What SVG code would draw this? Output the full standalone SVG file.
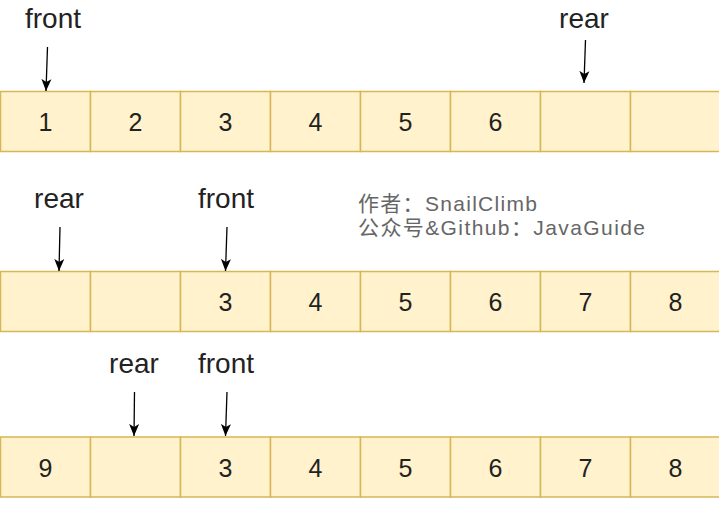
<svg xmlns="http://www.w3.org/2000/svg" width="719" height="505" viewBox="0 0 719 505">
<defs>
<style>
.cell{fill:#fff2cc;stroke:#d6b656;stroke-width:1.5}
.num{font-family:"Liberation Sans",Arial,sans-serif;font-size:25px;fill:#222;text-anchor:middle}
.lbl{font-family:"Liberation Sans",Arial,sans-serif;font-size:28px;fill:#222;text-anchor:middle}
.wm{font-family:"Liberation Sans","Noto Sans CJK SC",sans-serif;font-size:21px;fill:#666}
.arr{stroke:#000;stroke-width:1.3;fill:none}
</style>
<marker id="ah" markerWidth="13" markerHeight="12" viewBox="0 0 13 12" refX="12" refY="6" orient="auto" markerUnits="userSpaceOnUse">
<path d="M0,1 L12,6 L0,11 L3,6 Z" fill="#000"/>
</marker>
</defs>
<rect width="719" height="505" fill="#fff"/>
<g id="row1">
<rect class="cell" x="0.5" y="91.5" width="90" height="60"/>
<rect class="cell" x="90.5" y="91.5" width="90" height="60"/>
<rect class="cell" x="180.5" y="91.5" width="90" height="60"/>
<rect class="cell" x="270.5" y="91.5" width="90" height="60"/>
<rect class="cell" x="360.5" y="91.5" width="90" height="60"/>
<rect class="cell" x="450.5" y="91.5" width="90" height="60"/>
<rect class="cell" x="540.5" y="91.5" width="90" height="60"/>
<rect class="cell" x="630.5" y="91.5" width="90" height="60"/>
<text class="num" x="45.5" y="131">1</text>
<text class="num" x="135.5" y="131">2</text>
<text class="num" x="225.5" y="131">3</text>
<text class="num" x="315.5" y="131">4</text>
<text class="num" x="405.5" y="131">5</text>
<text class="num" x="495.5" y="131">6</text>
</g>
<g id="row2">
<rect class="cell" x="0.5" y="271.5" width="90" height="60"/>
<rect class="cell" x="90.5" y="271.5" width="90" height="60"/>
<rect class="cell" x="180.5" y="271.5" width="90" height="60"/>
<rect class="cell" x="270.5" y="271.5" width="90" height="60"/>
<rect class="cell" x="360.5" y="271.5" width="90" height="60"/>
<rect class="cell" x="450.5" y="271.5" width="90" height="60"/>
<rect class="cell" x="540.5" y="271.5" width="90" height="60"/>
<rect class="cell" x="630.5" y="271.5" width="90" height="60"/>
<text class="num" x="225.5" y="311">3</text>
<text class="num" x="315.5" y="311">4</text>
<text class="num" x="405.5" y="311">5</text>
<text class="num" x="495.5" y="311">6</text>
<text class="num" x="585.5" y="311">7</text>
<text class="num" x="675.5" y="311">8</text>
</g>
<g id="row3">
<rect class="cell" x="0.5" y="437" width="90" height="60"/>
<rect class="cell" x="90.5" y="437" width="90" height="60"/>
<rect class="cell" x="180.5" y="437" width="90" height="60"/>
<rect class="cell" x="270.5" y="437" width="90" height="60"/>
<rect class="cell" x="360.5" y="437" width="90" height="60"/>
<rect class="cell" x="450.5" y="437" width="90" height="60"/>
<rect class="cell" x="540.5" y="437" width="90" height="60"/>
<rect class="cell" x="630.5" y="437" width="90" height="60"/>
<text class="num" x="45.5" y="476.5">9</text>
<text class="num" x="225.5" y="476.5">3</text>
<text class="num" x="315.5" y="476.5">4</text>
<text class="num" x="405.5" y="476.5">5</text>
<text class="num" x="495.5" y="476.5">6</text>
<text class="num" x="585.5" y="476.5">7</text>
<text class="num" x="675.5" y="476.5">8</text>
</g>
<g id="labels">
<text class="lbl" x="53" y="28">front</text>
<text class="lbl" x="584" y="28">rear</text>
<text class="lbl" x="59" y="208">rear</text>
<text class="lbl" x="226" y="208">front</text>
<text class="lbl" x="134" y="373">rear</text>
<text class="lbl" x="226" y="373">front</text>
</g>
<g id="watermark">
<text class="wm" x="358" y="211" textLength="179" lengthAdjust="spacing">作者：SnailClimb</text>
<text class="wm" x="358" y="235" textLength="287" lengthAdjust="spacing">公众号&amp;Github：JavaGuide</text>
</g>
<g id="connectors">
<line class="arr" x1="47.5" y1="47" x2="46" y2="91" marker-end="url(#ah)"/>
<line class="arr" x1="585.5" y1="40" x2="584" y2="83" marker-end="url(#ah)"/>
<line class="arr" x1="60" y1="227" x2="59" y2="271" marker-end="url(#ah)"/>
<line class="arr" x1="227" y1="227" x2="225.5" y2="271" marker-end="url(#ah)"/>
<line class="arr" x1="134.5" y1="392" x2="134" y2="436" marker-end="url(#ah)"/>
<line class="arr" x1="227" y1="392" x2="225.5" y2="436" marker-end="url(#ah)"/>
</g>
</svg>
